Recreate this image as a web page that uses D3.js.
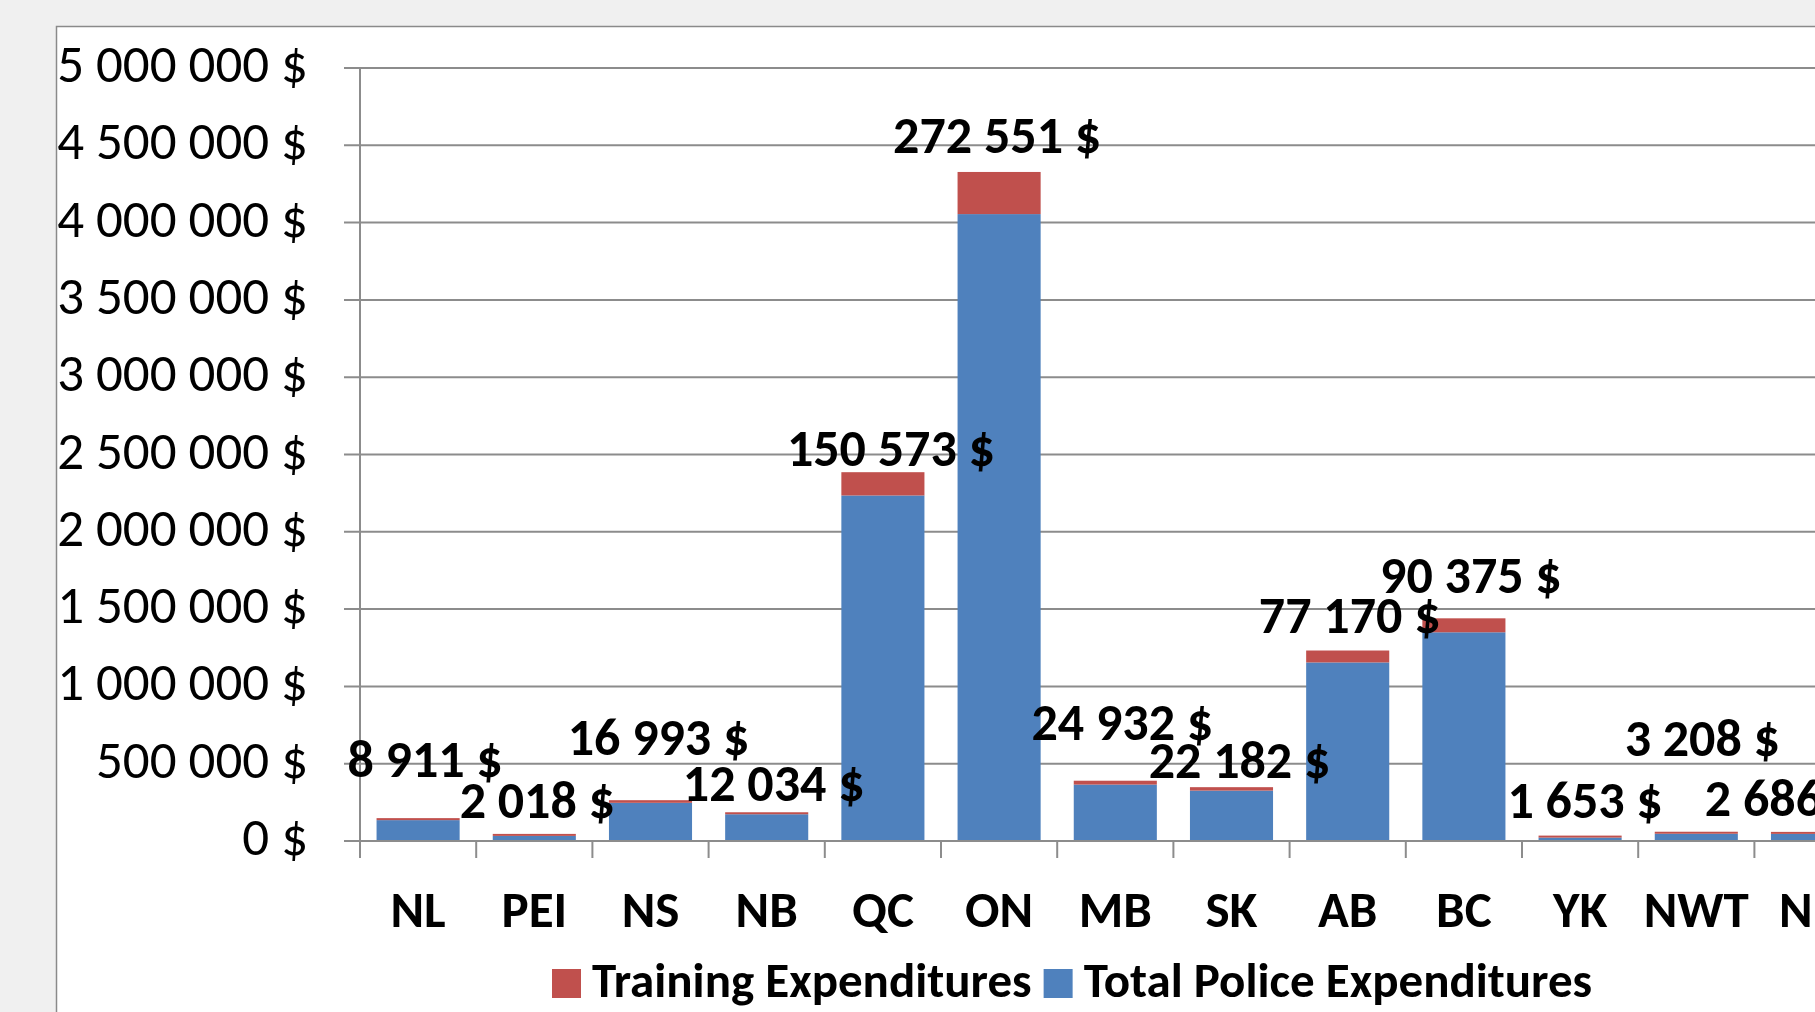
<!DOCTYPE html>
<html>
<head>
<meta charset="utf-8">
<script src="https://cdn.jsdelivr.net/npm/d3@7"></script>
<style>
  html, body { margin: 0; padding: 0; background: #f0f0f0; overflow: hidden; }
  svg { display: block; }
  text { font-family: Carlito, Calibri, Roboto, "Open Sans", sans-serif; fill: #000; }
</style>
</head>
<body>
<svg id="chart"></svg>
<script>
// data
var provinces = ["NL", "PEI", "NS", "NB", "QC", "ON", "MB", "SK", "AB", "BC", "YK", "NWT", "NU"];
var policeExp = [135000, 33000, 247000, 173000, 2235000, 4055000, 365000, 326000, 1155000, 1350000, 22000, 47000, 46000];
var trainingExp = [8911, 2018, 16993, 12034, 150573, 272551, 24932, 22182, 77170, 90375, 1653, 3208, 2686];
var yTicks = [0, 500000, 1000000, 1500000, 2000000, 2500000, 3000000, 3500000, 4000000, 4500000, 5000000];
var legendNames = ["Training Expenditures", "Total Police Expenditures"];

// label nudges (dx, dy from top of stack) -- the labels were dragged by hand in the original
var labelNudge = [[7,-41],[3,-16],[8,-45],[7,-11],[8,-6],[-2,-19],[7,-41],[8,-9],[2,-18],[7,-25],[5,-18],[6,-76],[-30,-16]];

var width = 1815, height = 1012;
var blue = "#4f81bd", red = "#c0504d", gridCol = "#8c8c8c";

var svg = d3.select("#chart")
    .attr("width", width)
    .attr("height", height);

// white chart area
svg.append("rect")
    .attr("x", 56.5)
    .attr("y", 26.5)
    .attr("width", width)
    .attr("height", height)
    .attr("fill", "#fff")
    .attr("stroke", "#8a8a8a")
    .attr("stroke-width", 1.5);

var step = 116.2;
var x = d3.scaleBand()
    .domain(provinces)
    .range([360, 360 + step * provinces.length])
    .paddingInner(0.285)
    .paddingOuter(0.1425);

var y = d3.scaleLinear()
    .domain([0, 5000000])
    .range([841, 68]);

var fmt = function(v){ return d3.format(",")(v).replace(/,/g, " ") + " $"; };

//gridlines + y labels
svg.selectAll("line.grid")
    .data(yTicks)
    .enter()
    .append("line")
    .attr("class", "grid")
    .attr("x1", 344)
    .attr("x2", width)
    .attr("y1", function(d){ return y(d); })
    .attr("y2", function(d){ return y(d); })
    .style("stroke", gridCol)
    .style("stroke-width", 2);

svg.selectAll("text.ylab")
    .data(yTicks)
    .enter()
    .append("text")
    .attr("class", "ylab")
    .attr("x", 308)
    .attr("y", function(d){ return y(d) + 14; })
    .attr("text-anchor", "end")
    .style("font-size", "53px")
    .text(fmt);

// y axis line
svg.append("line")
    .attr("x1", 360).attr("x2", 360)
    .attr("y1", y(5000000)).attr("y2", 858)
    .style("stroke", gridCol)
    .style("stroke-width", 2);

// category ticks
var tickPos = d3.range(provinces.length + 1).map(function(i){ return x.range()[0] + i * x.step(); });
svg.selectAll("line.xtick")
    .data(tickPos)
    .enter()
    .append("line")
    .attr("class", "xtick")
    .attr("x1", function(d){ return d; })
    .attr("x2", function(d){ return d; })
    .attr("y1", y(0))
    .attr("y2", 858)
    .style("stroke", gridCol)
    .style("stroke-width", 2);

// stacked bars
var rows = provinces.map(function(p, i){
    return { prov: p, police: policeExp[i], training: trainingExp[i], nudge: labelNudge[i] };
});

svg.selectAll("rect.police")
    .data(rows)
    .enter()
    .append("rect")
    .attr("class", "police")
    .attr("x", function(d){ return x(d.prov); })
    .attr("y", function(d){ return y(d.police); })
    .attr("width", x.bandwidth())
    .attr("height", function(d){ return y(0) - y(d.police); })
    .attr("fill", blue);

svg.selectAll("rect.training")
    .data(rows)
    .enter()
    .append("rect")
    .attr("class", "training")
    .attr("x", function(d){ return x(d.prov); })
    .attr("y", function(d){
        var h = Math.max(2, y(d.police) - y(d.police + d.training));
        return y(d.police) - h;
    })
    .attr("width", x.bandwidth())
    .attr("height", function(d){ return Math.max(2, y(d.police) - y(d.police + d.training)); })
    .attr("fill", red);

// gridline redraw on baseline
svg.append("line")
    .attr("x1", 344).attr("x2", width)
    .attr("y1", y(0)).attr("y2", y(0))
    .style("stroke", gridCol)
    .style("stroke-width", 2);

// value labels (training)
svg.selectAll("text.val")
    .data(rows)
    .enter()
    .append("text")
    .attr("class", "val")
    .attr("x", function(d){ return x(d.prov) + x.bandwidth() / 2 + d.nudge[0]; })
    .attr("y", function(d){
        var top = Math.min(y(d.police + d.training), y(d.police) - 2);
        return top + d.nudge[1];
    })
    .attr("text-anchor", "middle")
    .style("font-size", "52px")
    .style("font-weight", "bold")
    .text(function(d){ return fmt(d.training); });

// category labels
svg.selectAll("text.cat")
    .data(provinces)
    .enter()
    .append("text")
    .attr("class", "cat")
    .attr("x", function(d){ return x(d) + x.bandwidth() / 2; })
    .attr("y", 927)
    .attr("text-anchor", "middle")
    .style("font-size", "51px")
    .style("font-weight", "bold")
    .text(function(d){ return d; });

// legend
var legColors = [red, blue];
var lx = 552;
legendNames.forEach(function(name, i){
    svg.append("rect")
        .attr("x", lx)
        .attr("y", 969)
        .attr("width", 29)
        .attr("height", 29)
        .attr("fill", legColors[i]);
    var t = svg.append("text")
        .attr("x", lx + 40)
        .attr("y", 997)
        .style("font-size", "49px")
        .style("font-weight", "bold")
        .text(name);
    lx = lx + 40 + t.node().getComputedTextLength() + 12;
});
</script>
</body>
</html>
